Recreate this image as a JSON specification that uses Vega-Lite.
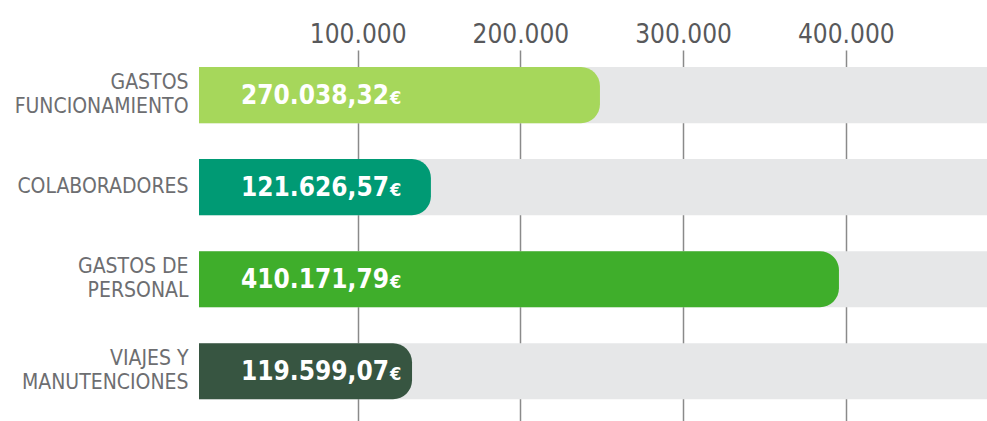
{
  "$schema": "https://vega.github.io/schema/vega-lite/v6.json",
  "width": 788,
  "height": 371,
  "autosize": {"type": "none"},
  "padding": {"left": 199, "top": 50, "right": 0, "bottom": 0},
  "background": "#ffffff",
  "config": {"view": {"stroke": null}},
  "data": {
    "values": [
      {"cat": "GASTOS|FUNCIONAMIENTO", "bar": 248900, "label": "270.038,32"},
      {"cat": "COLABORADORES", "bar": 145000, "label": "121.626,57"},
      {"cat": "GASTOS DE|PERSONAL", "bar": 395800, "label": "410.171,79"},
      {"cat": "VIAJES Y|MANUTENCIONES", "bar": 133400, "label": "119.599,07"}
    ]
  },
  "encoding": {
    "y": {
      "field": "cat",
      "type": "nominal",
      "sort": null,
      "title": null,
      "scale": {"paddingInner": 0.39, "paddingOuter": 0.21, "align": 0.44},
      "axis": {
        "orient": "left",
        "domain": false,
        "ticks": false,
        "grid": false,
        "labelPadding": 11,
        "labelFont": "DejaVu Sans Condensed",
        "labelFontSize": 21,
        "labelColor": "#6d6e71",
        "labelLimit": 400,
        "labelLineHeight": 24,
        "labelOffset": {"condition": {"test": "indexof(datum.value, '|') >= 0", "value": -12}, "value": 0},
        "labelExpr": "split(datum.label, '|')"
      }
    }
  },
  "layer": [
    {
      "mark": {"type": "bar", "color": "#e6e7e8"},
      "encoding": {
        "x": {
          "datum": 2460,
          "type": "quantitative",
          "scale": {"domain": [2460, 486800], "nice": false, "zero": false},
          "title": null,
          "axis": {
            "orient": "top",
            "title": null,
            "values": [100000, 200000, 300000, 400000],
            "domain": false,
            "ticks": false,
            "grid": true,
            "gridColor": "#8a8a8a",
            "gridWidth": 1.5,
            "labelPadding": 3,
            "labelFont": "DejaVu Sans Condensed",
            "labelFontSize": 26,
            "labelColor": "#58595b",
            "labelExpr": "replace(datum.label, ',', '.')"
          }
        },
        "x2": {"datum": 486800}
      }
    },
    {
      "mark": {"type": "bar", "cornerRadiusTopRight": 19, "cornerRadiusBottomRight": 19},
      "encoding": {
        "x": {"field": "bar", "type": "quantitative", "title": null},
        "x2": {"datum": 2460},
        "color": {
          "field": "cat",
          "type": "nominal",
          "legend": null,
          "scale": {
            "domain": ["GASTOS|FUNCIONAMIENTO", "COLABORADORES", "GASTOS DE|PERSONAL", "VIAJES Y|MANUTENCIONES"],
            "range": ["#a6d75b", "#009a74", "#3fae2b", "#375541"]
          }
        }
      }
    },
    {
      "mark": {
        "type": "text",
        "align": "left",
        "baseline": "alphabetic",
        "dx": 42,
        "dy": 9,
        "font": "DejaVu Sans Condensed",
        "fontWeight": "bold",
        "fontSize": 26,
        "color": "#ffffff"
      },
      "encoding": {
        "x": {"datum": 2460, "type": "quantitative"},
        "text": {"field": "label"}
      }
    },
    {
      "mark": {
        "type": "text",
        "align": "left",
        "baseline": "alphabetic",
        "dx": 191,
        "dy": 9,
        "font": "DejaVu Sans Condensed",
        "fontWeight": "bold",
        "fontSize": 18,
        "color": "#ffffff",
        "text": "€"
      },
      "encoding": {
        "x": {"datum": 2460, "type": "quantitative"}
      }
    }
  ]
}
